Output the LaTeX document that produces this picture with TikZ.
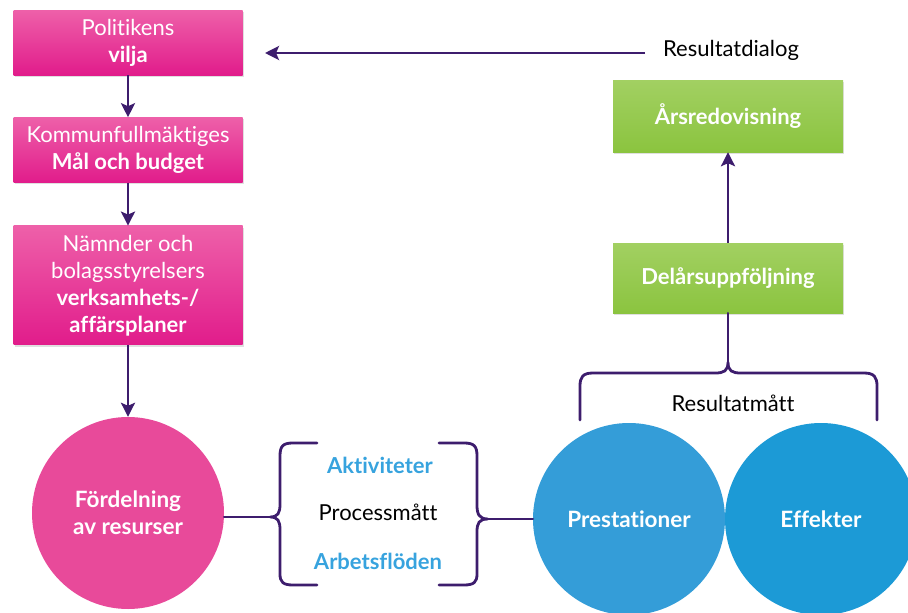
\documentclass[tikz,border=0pt]{standalone}
\usepackage{fontspec}
\setmainfont{Lato}[Ligatures=NoCommon]
\usetikzlibrary{arrows.meta,positioning,shadows}

\definecolor{pinktop}{HTML}{EE60A9}
\definecolor{pinkbot}{HTML}{E11C8B}
\definecolor{pinkfill}{HTML}{E84A9A}
\definecolor{greentop}{HTML}{A2D062}
\definecolor{greenbot}{HTML}{8BC43F}
\definecolor{bluea}{HTML}{349DD8}
\definecolor{blueb}{HTML}{1C9AD6}
\definecolor{bluetext}{HTML}{37A3DE}
\definecolor{linecol}{HTML}{3D1D6D}

\begin{document}
\begin{tikzpicture}[
    x=1pt, y=-1pt,
    node distance=42pt,
    pinkbox/.style={rectangle, top color=pinktop, bottom color=pinkbot, text=white, align=center, minimum width=229pt, font=\fontsize{22}{27}\selectfont, drop shadow={shadow xshift=1pt, shadow yshift=-2pt, opacity=0.25}},
    greenbox/.style={rectangle, top color=greentop, bottom color=greenbot, text=white, minimum width=230pt, font=\fontsize{22}{27}\selectfont\bfseries, drop shadow={shadow xshift=1pt, shadow yshift=-2pt, opacity=0.25}},
    ball/.style={circle, text=white, align=center, inner sep=0pt, font=\fontsize{22.5}{27}\selectfont\bfseries},
    label/.style={font=\fontsize{22}{27}\selectfont},
    bluelabel/.style={font=\fontsize{22}{27}\selectfont\bfseries, text=bluetext},
    arrow/.style={-{Stealth[length=14pt,width=14pt,inset=3pt]}, line width=2.8pt, draw=linecol},
    brace/.style={line width=2.8pt, draw=linecol, line cap=round}
]
\useasboundingbox (0,0) rectangle (908,613);

% left column
\node[pinkbox, minimum height=65pt] (vilja) at (128,42.5) {Politikens\\\textbf{vilja}};
\node[pinkbox, minimum height=65pt, below=of vilja] (budget) {Kommunfullmäktiges\\\textbf{Mål och budget}};
\node[pinkbox, minimum height=119pt, below=43pt of budget] (planer) {Nämnder och\\bolagsstyrelsers\\\textbf{verksamhets-/}\\\textbf{affärsplaner}};
\node[ball, fill=pinkfill, minimum size=192pt] (resurser) at (128,513) {Fördelning\\av resurser};

% process
\node[bluelabel] (aktiviteter) at (380,465) {Aktiviteter};
\node[label] (processmatt) at (378,512) {Processmått};
\node[bluelabel] (arbetsfloden) at (378,561) {Arbetsflöden};

% results
\node[ball, fill=bluea, minimum size=192pt] (prestationer) at (629,519) {Prestationer};
\node[ball, fill=blueb, minimum size=192pt] (effekter) at (821,519) {Effekter};
\node[label] (resultatmatt) at (733,403) {Resultatmått};
\node[greenbox, minimum height=70pt] (delar) at (728,278) {Delårsuppföljning};
\node[greenbox, minimum height=72pt] (arsred) at (728,116) {Årsredovisning};
\node[label] (dialog) at (731,50) {Resultatdialog};

\coordinate (dialogstart) at (645,53);
\coordinate (viljaend) at (265,53);
\coordinate (lcusp) at (270,517);
\coordinate (rcusp) at (488,519);
\coordinate (tcusp) at (728,362);

\draw[arrow] (vilja) -- (budget);
\draw[arrow] (budget) -- (planer);
\draw[arrow] (planer) -- (resurser);
\draw[arrow] (delar) -- (arsred);
\draw[arrow] (dialogstart) -- (viljaend);

% braces
\draw[brace] (resurser.east |- lcusp) -- (lcusp);
\draw[brace] (317,443) -- (293,443) .. controls (283,443) and (280,446) .. (280,456) -- (280,504) .. controls (280,513) and (278,517) .. (lcusp)
             .. controls (278,517) and (280,521) .. (280,530) -- (280,574) .. controls (280,582) and (283,585) .. (293,585) -- (317,585);
\draw[brace] (rcusp) -- (prestationer.west);
\draw[brace] (439,443) -- (464,443) .. controls (474,443) and (477,446) .. (477,456) -- (477,505) .. controls (477,514) and (479,519) .. (rcusp)
             .. controls (479,519) and (477,523) .. (477,532) -- (477,574) .. controls (477,582) and (474,585) .. (464,585) -- (439,585);
\draw[brace] (tcusp) -- (delar.south);
\draw[brace] (580,420) -- (580,386) .. controls (580,377) and (583,373) .. (593,373) -- (715,373) .. controls (724,373) and (728,371) .. (tcusp)
             .. controls (728,371) and (732,373) .. (741,373) -- (864,373) .. controls (874,373) and (877,377) .. (877,386) -- (877,420);

\end{tikzpicture}
\end{document}
